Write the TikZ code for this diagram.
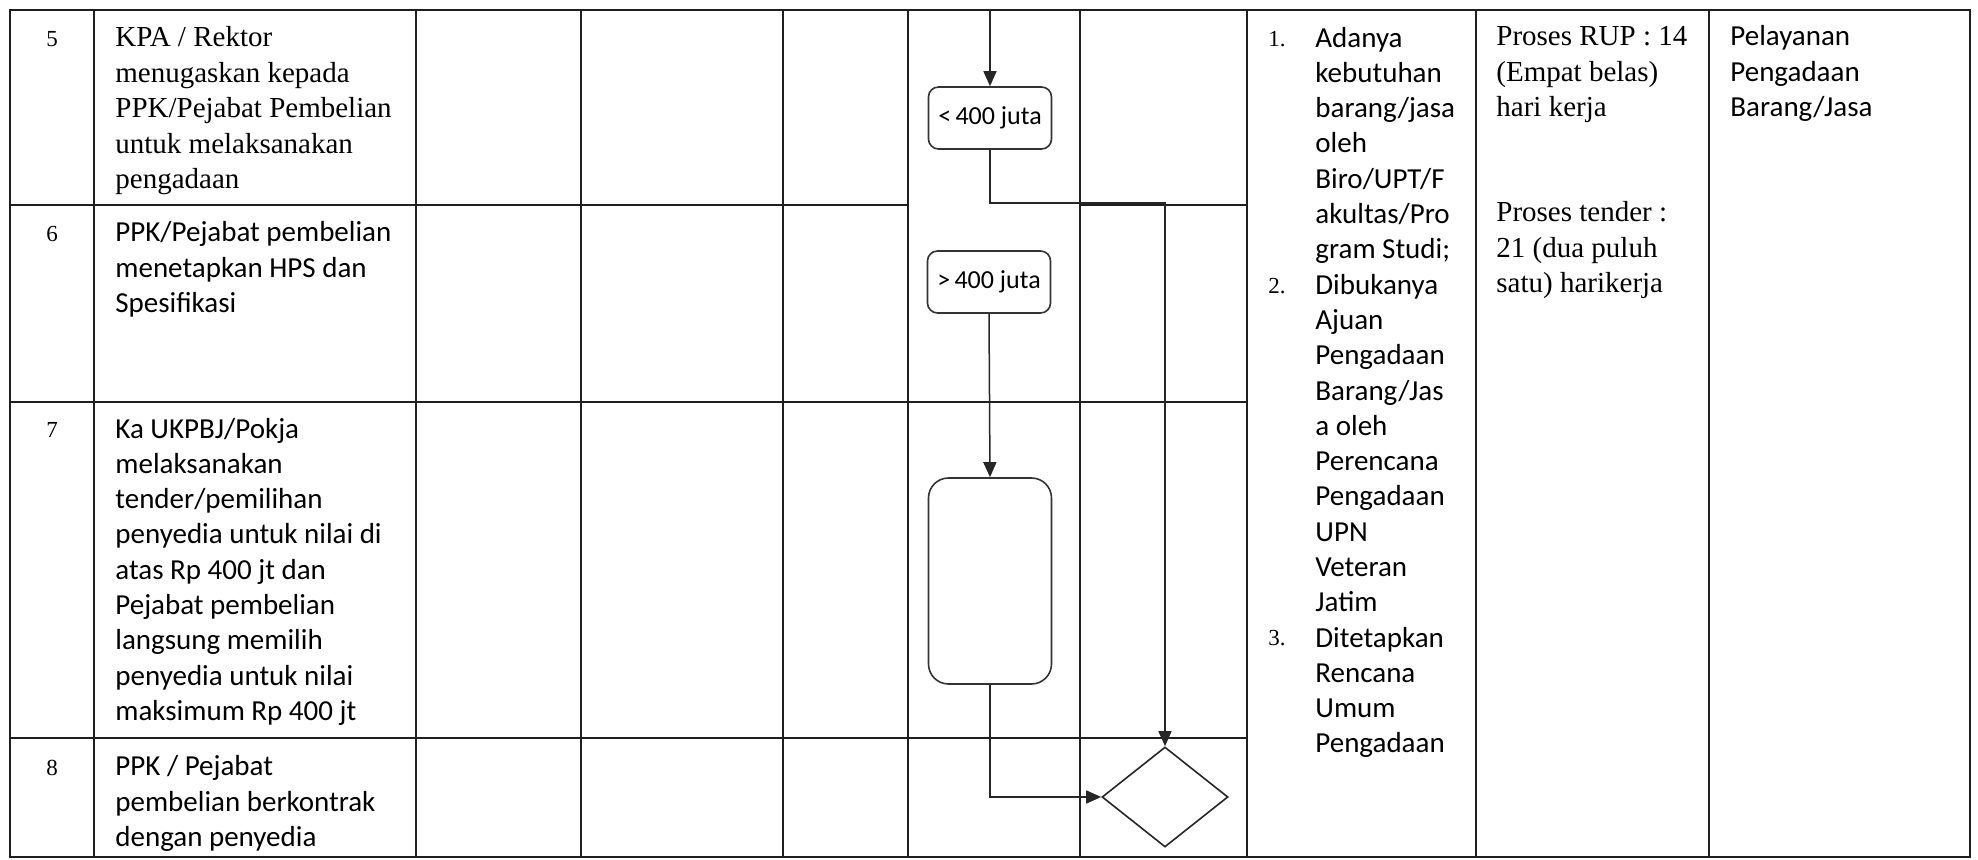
\documentclass[tikz,border=0pt]{standalone}
\usepackage{fontspec}
\setmainfont{Liberation Serif}
\newfontfamily\calfont{Carlito}
\newfontfamily\tnrfont{Liberation Serif}
\usetikzlibrary{arrows.meta,shapes.geometric}
\begin{document}
\begin{tikzpicture}[x=0.5pt,y=-0.5pt,
  tline/.style={draw=black!88, line width=1.1pt},
  conn/.style={draw=black!85, line width=0.75pt},
  arr/.style={conn,-{Triangle[length=7.5pt,width=6.5pt]}},
  flowbox/.style={draw=black!80, line width=0.8pt, rounded corners=5pt, inner sep=0pt, minimum width=61.5pt, minimum height=31pt, font=\calfont\fontsize{13}{15}\selectfont},
  bigbox/.style={flowbox, rounded corners=10pt, minimum height=103pt},
  decision/.style={diamond, aspect=1.26, draw=black!85, line width=0.8pt, inner sep=0pt, minimum width=63pt, minimum height=50pt},
  caltxt/.style={anchor=base west, align=left, inner sep=0pt, font=\calfont\fontsize{14.5}{17.65}\selectfont},
  tnrtxt/.style={anchor=base west, align=left, inner sep=0pt, font=\tnrfont\fontsize{14.5}{17.7}\selectfont},
  rownum/.style={anchor=base, inner sep=0pt, font=\tnrfont\fontsize{11.5}{14}\selectfont},
  itemnum/.style={anchor=base west, inner sep=0pt, font=\tnrfont\fontsize{11.5}{14}\selectfont},
]
\useasboundingbox (0,0) rectangle (1978,860);
% table
\draw[tline] (10,10) rectangle (1970,857);
\foreach \x in {94,416,581,783,908,1080,1247,1476,1709} \draw[tline] (\x,10) -- (\x,857);
\draw[tline] (10,205) -- (908,205);
\draw[tline] (1080,205) -- (1247,205);
\draw[tline] (10,402) -- (1247,402);
\draw[tline] (10,738) -- (1247,738);
% flow
\node[flowbox] (b1) at (990,118) {<\,400 juta};
\node[flowbox] (b2) at (989,282) {>\,400 juta};
\node[bigbox] (bb) at (990,581) {};
\node[decision] (dia) at (1165,797) {};
\coordinate (top) at (990,10);
\draw[arr] (top) -- (b1.north);
\draw[arr] (b1.south) -- ++(0,53) -| (dia.north);
\draw[arr] (b2.south) -- (bb.north);
\draw[arr] (bb.south) |- (dia.west);
% row numbers
\node[rownum] (n5) at (52,47) {5};
\node[rownum] (n6) at (52,242) {6};
\node[rownum] (n7) at (52,438) {7};
\node[rownum] (n8) at (52,776) {8};
% descriptions (anchor = baseline of the last line)
\node[tnrtxt] (t5) at (115,188.6) {KPA / Rektor\\menugaskan kepada\\PPK/Pejabat Pembelian\\untuk melaksanakan\\pengadaan};
\node[caltxt] (t6) at (115,312.6) {PPK/Pejabat pembelian\\menetapkan HPS dan\\Spesifikasi};
\node[caltxt] (t7) at (115,720.4) {Ka UKPBJ/Pokja\\melaksanakan\\tender/pemilihan\\penyedia untuk nilai di\\atas Rp 400 jt dan\\Pejabat pembelian\\langsung memilih\\penyedia untuk nilai\\maksimum Rp 400 jt};
\node[caltxt] (t8) at (115,846.6) {PPK / Pejabat\\pembelian berkontrak\\dengan penyedia};
% input column
\node[itemnum] (a1) at (1268,47) {1.};
\node[itemnum] (a2) at (1268,294) {2.};
\node[itemnum] (a3) at (1268,646) {3.};
\node[caltxt] (adanya) at (1315,753) {Adanya\\kebutuhan\\barang/jasa\\oleh\\Biro/UPT/F\\akultas/Pro\\gram Studi;\\Dibukanya\\Ajuan\\Pengadaan\\Barang/Jas\\a oleh\\Perencana\\Pengadaan\\UPN\\Veteran\\Jatim\\Ditetapkan\\Rencana\\Umum\\Pengadaan};
% time column
\node[tnrtxt] (p1) at (1496,116.8) {Proses RUP : 14\\(Empat belas)\\hari kerja};
\node[tnrtxt] (p2) at (1496,292.8) {Proses tender :\\21 (dua puluh\\satu) harikerja};
% output column
\node[caltxt] (pel) at (1730,116.6) {Pelayanan\\Pengadaan\\Barang/Jasa};
\end{tikzpicture}
\end{document}
